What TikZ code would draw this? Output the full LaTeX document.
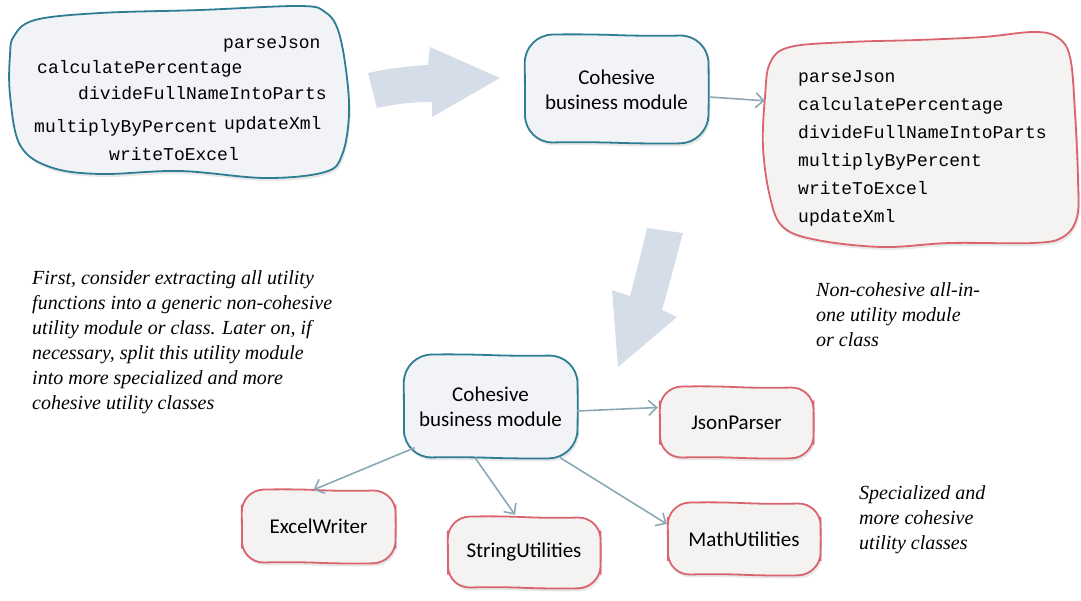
\documentclass[tikz,border=0pt]{standalone}
\usepackage{fontspec}
\setmainfont{Liberation Serif}
\setsansfont{Carlito}
\setmonofont{Liberation Mono}
\usetikzlibrary{arrows.meta,calc,shadows}

\definecolor{bblue}{HTML}{2F7D95}
\definecolor{bfill}{HTML}{F1F3F6}
\definecolor{rred}{HTML}{D9646E}
\definecolor{rfill}{HTML}{F4F3F1}
\definecolor{connc}{HTML}{8BA8B4}
\definecolor{arrowfill}{HTML}{D5DEE8}

\tikzset{
  blueblob/.style={draw=bblue, fill=bfill, line width=1.8pt,
    drop shadow={opacity=0.18, shadow xshift=1.5pt, shadow yshift=-3pt}},
  redblob/.style={draw=rred, fill=rfill, line width=1.8pt,
    drop shadow={opacity=0.18, shadow xshift=1.5pt, shadow yshift=-3pt}},
  fn/.style={font=\ttfamily\fontsize{18}{20}\selectfont, anchor=base west, inner sep=0pt, text=black},
  fnlist/.style={font=\ttfamily\fontsize{18}{28}\selectfont, anchor=north west, align=left, inner sep=0pt, text=black},
  lbl/.style={font=\sffamily\fontsize{21}{25}\selectfont, align=center, inner sep=0pt, text=black},
  area/.style={inner sep=0pt, draw=none},
  note/.style={font=\itshape\fontsize{20}{25}\selectfont, anchor=north west, align=left, inner sep=0pt},
  connector/.style={draw=connc, line width=1.6pt, -{Straight Barb[length=8pt,width=15pt,line width=1.6pt]}},
  bigarrow/.style={fill=arrowfill, draw=none},
}

% wobbly rounded box: #1 style, #2 L, #3 T, #4 R, #5 B, #6 radius
\newcommand\wbox[6]{%
  \draw[#1, rounded corners=#6]
    ({#2},{(#3+#5)/2}) -- ({#2-0.5},{#3}) -- ({#2+(#4-#2)/3},{#3-1}) -- ({#2+2*(#4-#2)/3},{#3+1.2})
    -- ({#4},{#3}) -- ({#4+1},{(#3+#5)/2}) -- ({#4},{#5}) -- ({#2+2*(#4-#2)/3},{#5+0.8})
    -- ({#2+(#4-#2)/3},{#5-1.2}) -- ({#2},{#5}) -- cycle;%
}

\begin{document}
\begin{tikzpicture}[x=1pt,y=-1pt]
\useasboundingbox (0,0) rectangle (1081,600);

% ---------- big arrows ----------
\fill[bigarrow] (368,73) .. controls (390,68) and (410,66) .. (428,65) -- (430,47) -- (500,78)
  -- (432,117) -- (432,102) .. controls (412,102) and (395,104) .. (377,108) -- cycle;
\fill[bigarrow] (647,228) -- (683,233) .. controls (675,262) and (668,290) .. (662,310)
  -- (677,317) -- (618,367) -- (612,290) -- (630,296) .. controls (636,273) and (642,250) .. (647,228) -- cycle;

% ---------- top-left blob ----------
\draw[blueblob] plot[smooth cycle, tension=0.6] coordinates {
  (14,36) (35,20) (100,13) (200,10) (300,6) (325,12) (338,30) (346,70) (349,115)
  (342,155) (325,172) (265,178) (180,171) (100,174) (50,167) (20,145) (10,95) (10,55)};
\node[area, minimum width=339, minimum height=172] (funcs) at (179.5,92) {};
\node[fn] (f1) at (223,48) {parseJson};
\node[fn] (f2) at (37,73) {calculatePercentage};
\node[fn] (f3) at (78,99) {divideFullNameIntoParts};
\node[fn] (f4) at (34,132) {multiplyByPercent};
\node[fn] (f5) at (224,129) {updateXml};
\node[fn] (f6) at (109,160) {writeToExcel};

% ---------- right blob ----------
\draw[redblob] plot[smooth cycle, tension=0.6] coordinates {
  (765,97) (770,63) (790,47) (850,42) (917,40) (983,37) (1033,32) (1057,37) (1070,57)
  (1075,113) (1078,180) (1077,217) (1063,237) (1033,243) (950,243) (883,247) (817,240)
  (783,227) (770,197) (763,147)};
\node[area, minimum width=315, minimum height=217] (util) at (920.5,138.5) {};
\node[fnlist] (utiltext) at (798,70) {parseJson\\calculatePercentage\\divideFullNameIntoParts\\multiplyByPercent\\writeToExcel\\updateXml};

% ---------- small boxes ----------
\wbox{blueblob}{525}{35}{708}{143}{28}
\node[lbl, minimum width=183, minimum height=108] (cbm1) at (616.5,90) {Cohesive\\business module};

\wbox{blueblob}{404}{355}{577}{458}{28}
\node[lbl, minimum width=173, minimum height=103] (cbm2) at (490.5,407) {Cohesive\\business module};

\wbox{redblob}{660}{387}{813}{458}{22}
\node[lbl, minimum width=153, minimum height=71] (json) at (736.5,422.5) {JsonParser};

\wbox{redblob}{242}{490}{395}{563}{22}
\node[lbl, minimum width=153, minimum height=73] (excel) at (318.5,526.5) {ExcelWriter};

\wbox{redblob}{448}{517}{600}{588}{22}
\node[lbl, minimum width=152, minimum height=71] (string) at (524,552.5) {StringUtilities};

\wbox{redblob}{668}{503}{820}{575}{22}
\node[lbl, minimum width=152, minimum height=72] (math) at (744,539) {MathUtilities};

% ---------- connectors ----------
\draw[connector] ($(cbm1.east)+(1,7)$) -- ($(util.north west)+(2,71)$);
\draw[connector] ($(cbm2.east)+(0,4)$) -- ($(json.west)+(-2,-15)$);
\draw[connector] ($(cbm2.south west)+(11,-11)$) -- ($(excel.north)+(-5,0)$);
\draw[connector] ($(cbm2.south)+(-15.5,-1)$) -- ($(string.north)+(-9,-2)$);
\draw[connector] ($(cbm2.south east)+(-17,-1)$) -- ($(math.west)+(-1,-15)$);

% ---------- notes ----------
\node[note] (note1) at (32,270) {First, consider extracting all utility\\functions into a generic non-cohesive\\utility module or class. Later on, if\\necessary, split this utility module\\into more specialized and more\\cohesive utility classes};
\node[note] (note2) at (816,282) {Non-cohesive all-in-\\one utility module\\or class};
\node[note] (note3) at (859,485) {Specialized and\\more cohesive\\utility classes};
\end{tikzpicture}
\end{document}
